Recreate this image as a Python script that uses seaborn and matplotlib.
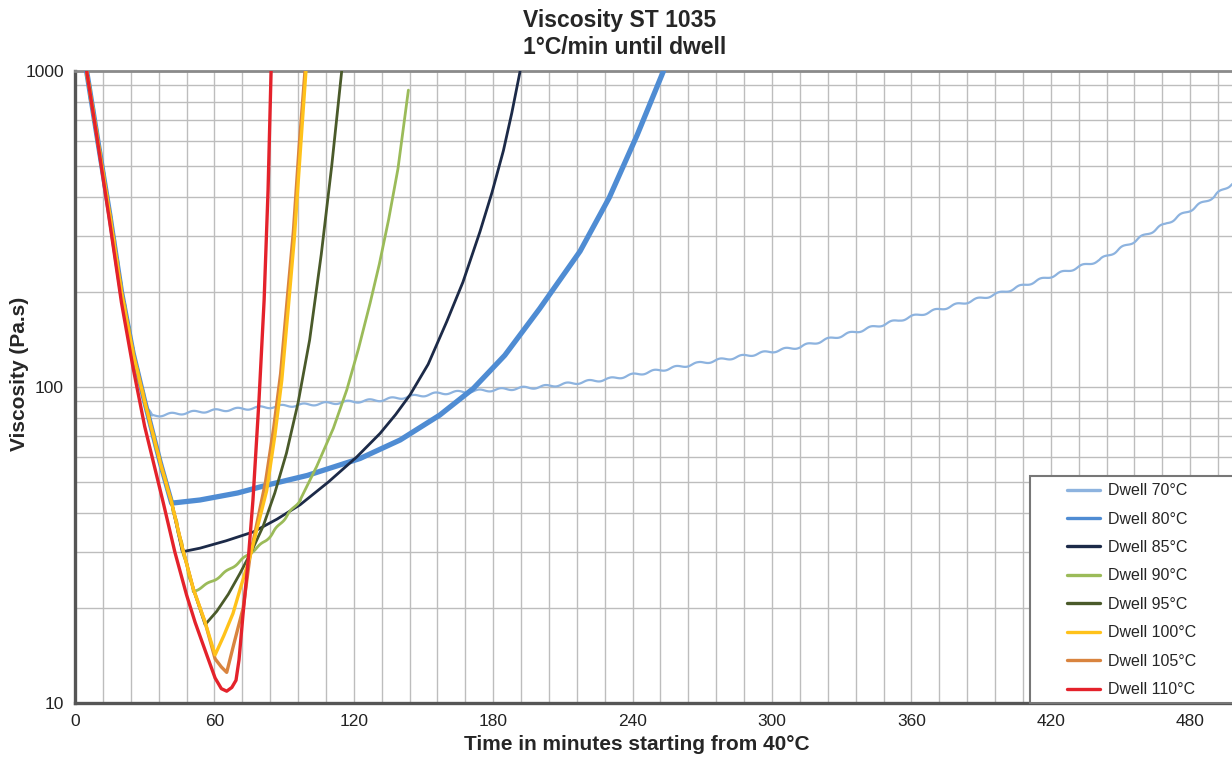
import pandas as pd
import seaborn as sns
import matplotlib.pyplot as plt
from matplotlib.ticker import MultipleLocator, LogLocator, NullFormatter, FuncFormatter
from matplotlib.patches import Rectangle
from matplotlib.lines import Line2D

# common heat-up ramp at 1°C/min (time in min, viscosity in Pa.s)
ramp_t = [5, 10, 15, 20, 25, 30, 36.6, 41.6, 46.2, 50.9, 56]
ramp_v = [1000, 590, 350, 200, 128, 90, 58, 43, 31, 23, 18]

# dwell branches
d70_t = [32.7, 53.8, 86.1, 131.3, 157, 200, 230, 269, 312, 355, 398, 441, 470, 490, 498]
d70_v = [81, 83.6, 86.7, 91, 95.5, 100, 106, 119, 134, 163, 198, 252, 330, 400, 441]
d80_t = [41.6, 53.8, 70, 82.5, 100, 122.7, 140, 157, 171.5, 185, 200, 217.4,
         230, 242, 253.3]
d80_v = [42.9, 43.9, 46.2, 48.9, 52.5, 59.4, 68, 81.5, 99, 126, 177, 269,
         398, 628, 1000]
d85_t = [46.2, 53.8, 65, 76.8, 87, 96.9, 109, 121.3, 131.3, 138, 144.2, 152, 160,
         167, 174.3, 179.5, 184.4, 188, 191.6]
d85_v = [30.1, 30.9, 32.6, 34.8, 38.2, 42.4, 50, 60.1, 71.3, 81.8, 94.4, 118, 161,
         215, 310, 413, 560, 736, 1000]
d90_t = [50.9, 60, 68.1, 82.5, 96.9, 104, 111.2, 117, 122, 127, 131, 135, 139, 143.5]
d90_v = [22.5, 24.5, 27, 32.8, 43.9, 56, 74, 98, 132, 184, 245, 339, 490, 870]
d95_t = [56, 61, 66, 71, 76, 81, 86, 91, 96, 101, 106, 110.5, 114.8]
d95_v = [17.7, 19.5, 22.1, 25.7, 30.2, 36.3, 46.2, 61.7, 89, 141, 263, 501, 1000]
d100_t = [60.3, 64, 68, 71.5, 75.3, 82.5, 86, 89, 92, 94.4, 97, 99.4]
d100_v = [14.2, 16.3, 19.2, 23.5, 29, 47, 70, 105, 185, 295, 560, 1000]
d105_t = [60.3, 63, 65.3, 68.5, 72.4, 75.3, 82, 85.5, 88.5, 91.5, 94, 96.5, 99]
d105_v = [13.8, 13, 12.5, 15.5, 20, 29, 50, 74, 110, 195, 310, 580, 1000]
# 110°C run sits a bit lower on the ramp, so it has its own full trace
d110_t = [5, 10, 15, 20, 25, 30, 38, 43, 48, 51.7, 56.7, 60.3, 63, 65.3, 67.5,
          69.3, 70.6, 72.3, 74.5, 76.6, 79.2, 81.4, 83.1, 84.4]
d110_v = [1000, 580, 330, 185, 115, 75, 43, 30, 22, 18, 14.2, 12, 11.1, 10.9, 11.2,
          11.8, 13.7, 19, 28, 43.9, 91, 188, 420, 1000]

labels = ['Dwell 70°C', 'Dwell 80°C', 'Dwell 85°C', 'Dwell 90°C',
          'Dwell 95°C', 'Dwell 100°C', 'Dwell 105°C', 'Dwell 110°C']
colors = ['#8DB3DF', '#4F8CD3', '#1C2A48', '#9BBB59',
          '#4A5A2A', '#FFC21A', '#D9843F', '#E4222B']
widths = [1.6, 3.8, 2.0, 2.0, 2.0, 2.4, 2.4, 2.4]
zorders = [3, 4, 5, 6, 7, 9, 8, 10]
# ripple on the 70 run and on the low part of the 90 run (up to ~97 min)
ripple = [1.3, 0, 0, 0.7, 0, 0, 0, 0]
ripple_end = [999, 0, 0, 96.9, 0, 0, 0, 0]


def with_ramp(tail_t, tail_v):
    t = [x for x in ramp_t if x < tail_t[0]] + tail_t
    v = [y for x, y in zip(ramp_t, ramp_v) if x < tail_t[0]] + tail_v
    return t, v


curves = [with_ramp(d70_t, d70_v), with_ramp(d80_t, d80_v), with_ramp(d85_t, d85_v),
          with_ramp(d90_t, d90_v), with_ramp(d95_t, d95_v), with_ramp(d100_t, d100_v),
          with_ramp(d105_t, d105_v), (d110_t, d110_v)]

sns.set_style("white")
plt.rcParams['font.family'] = ['Liberation Sans', 'DejaVu Sans']

fig = plt.figure(figsize=(12.32, 7.61), dpi=100)
ax = fig.add_axes([75 / 1232, 58 / 761, 1 - 75 / 1232, 632 / 761])

for (t, v), c, lw, z, rp, rend in zip(curves, colors, widths, zorders, ripple, ripple_end):
    df = pd.DataFrame({'t': t, 'v': v})
    if rp > 0:
        parts = [(df[df['t'] <= rend], rp), (df[df['t'] >= rend], 0)]
    else:
        parts = [(df, 0)]
    for part, amp in parts:
        if len(part) < 2:
            continue
        n_before = len(ax.lines)
        sns.lineplot(data=part, x='t', y='v', ax=ax, color=c, linewidth=lw,
                     sort=False, estimator=None, zorder=z)
        if amp > 0:
            ax.lines[n_before].set_sketch_params(amp, 22, 1.0)

ax.set_yscale('log')
ax.set_ylim(10, 1000)
ax.set_xlim(0, 498)

ax.xaxis.set_major_locator(MultipleLocator(60))
ax.xaxis.set_minor_locator(MultipleLocator(12))
ax.yaxis.set_major_locator(LogLocator(base=10))
ax.yaxis.set_minor_locator(LogLocator(base=10, subs=range(2, 10)))
ax.yaxis.set_major_formatter(FuncFormatter(lambda y, p: f'{y:.0f}'))
ax.yaxis.set_minor_formatter(NullFormatter())

ax.grid(True, which='both', color='#bdbdbd', linewidth=1.0)
ax.set_axisbelow(True)
ax.tick_params(which='major', direction='out', length=5, width=1.2, color='#666666',
               labelsize=12.5, labelcolor='#222222', pad=3)
ax.tick_params(which='minor', length=0)

for side in ['left', 'bottom']:
    ax.spines[side].set_color('#555555')
    ax.spines[side].set_linewidth(2.4)
ax.spines['top'].set_color('#8a8a8a')
ax.spines['top'].set_linewidth(2.0)
ax.spines['right'].set_visible(False)

ax.set_xlabel('Time in minutes starting from 40°C', fontsize=15, fontweight='bold')
ax.xaxis.set_label_coords((637 - 75) / 1157, -0.05)
ax.set_ylabel('Viscosity (Pa.s)', fontsize=15, fontweight='bold')
ax.yaxis.set_label_coords(-0.04, 0.52)

fig.text(620 / 1232, 1 - 20 / 761, 'Viscosity ST 1035', ha='center', va='center',
         fontsize=16.5, fontweight='bold')
fig.text(625 / 1232, 1 - 47 / 761, '1°C/min until dwell', ha='center', va='center',
         fontsize=16.5, fontweight='bold')

# legend box, cut by the right edge of the image like the original
ax.add_patch(Rectangle((955 / 1157, 0), 0.3, 227 / 632, transform=ax.transAxes,
                       facecolor='white', edgecolor='#777777', linewidth=1.5,
                       clip_on=False, zorder=20))
handles = [Line2D([], [], color=c, linewidth=2.4) for c in colors]
leg = ax.legend(handles, labels, loc='lower left', bbox_to_anchor=(986 / 1157, 0.0),
                frameon=False, fontsize=11.5, handlelength=2.05, handletextpad=0.5,
                labelspacing=0.84, borderpad=0.37, borderaxespad=0)
leg.set_zorder(21)

fig.savefig('out.png', dpi=100)
